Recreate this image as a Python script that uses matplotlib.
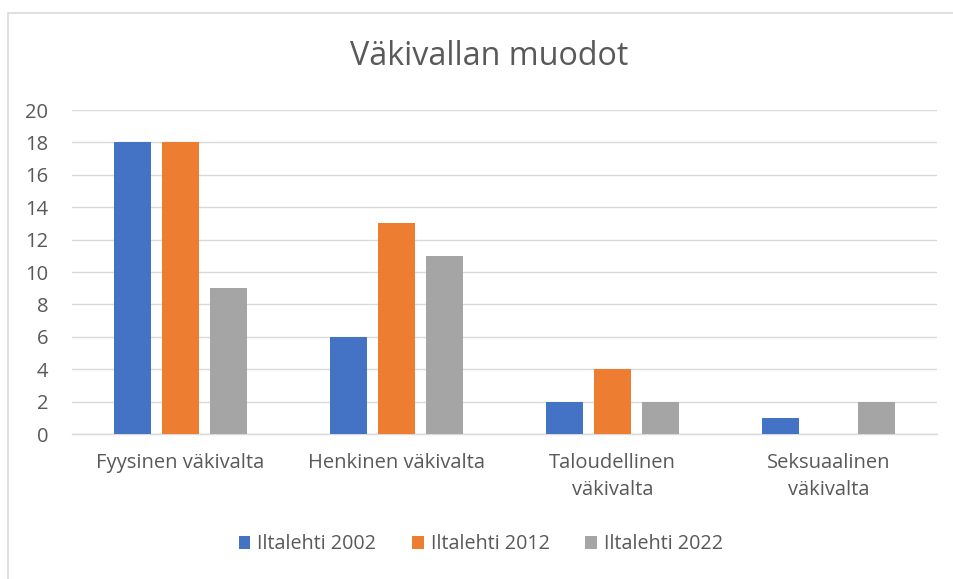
import matplotlib
matplotlib.use("Agg")
import matplotlib.pyplot as plt
import numpy as np
from matplotlib.patches import Rectangle

plt.rcParams['font.family'] = ['Open Sans', 'DejaVu Sans']

# Data
categories = ["Fyysinen väkivalta", "Henkinen väkivalta",
              "Taloudellinen\nväkivalta", "Seksuaalinen\nväkivalta"]
series_names = ["Iltalehti 2002", "Iltalehti 2012", "Iltalehti 2022"]
values_2002 = [18, 6, 2, 1]
values_2012 = [18, 13, 4, 0]
values_2022 = [9, 11, 2, 2]
y_ticks = [0, 2, 4, 6, 8, 10, 12, 14, 16, 18, 20]

colors = ['#4472C4', '#ED7D31', '#A5A5A5']
text_color = '#595959'
grid_color = '#D9D9D9'

fig = plt.figure(figsize=(9.54, 5.79), dpi=100)
ax = fig.add_axes([0.0755, 0.2504, 0.9065, 0.5596])

x = np.arange(len(categories))
bar_w = 0.171
offset = 0.222
for i, (vals, name) in enumerate(zip([values_2002, values_2012, values_2022], series_names)):
    ax.bar(x + (i - 1) * offset, vals, width=bar_w, color=colors[i], label=name, zorder=3)

ax.set_xlim(-0.5, len(categories) - 0.5)
ax.set_ylim(0, 20)
ax.set_yticks(y_ticks)
ax.set_xticks(x)
ax.set_xticklabels(categories, linespacing=1.45)
ax.tick_params(axis='both', length=0, colors=text_color, labelsize=14.5)
ax.tick_params(axis='x', pad=14)
ax.tick_params(axis='y', pad=17)
ax.yaxis.grid(True, color=grid_color, linewidth=1, zorder=0)
for side in ['left', 'right', 'top']:
    ax.spines[side].set_visible(False)
ax.spines['bottom'].set_color(grid_color)
ax.spines['bottom'].set_linewidth(1)

fig.text(0.513, 0.902, "Väkivallan muodot", ha='center', va='center',
         fontsize=23.2, color=text_color)

leg = fig.legend(loc='center', ncol=3, frameon=False, fontsize=14.2,
                 handlelength=0.6, handleheight=0.6, handletextpad=0.35,
                 columnspacing=1.8, bbox_to_anchor=(0.504, 0.060),
                 bbox_transform=fig.transFigure)
for t in leg.get_texts():
    t.set_color(text_color)

# chart frame (only top and left edges fall inside the image)
fig.patches.append(Rectangle((8 / 954, -20 / 579), 980 / 954, 586 / 579,
                             transform=fig.transFigure, fill=False,
                             edgecolor=grid_color, linewidth=1.2))

fig.savefig("out.png", dpi=100)
